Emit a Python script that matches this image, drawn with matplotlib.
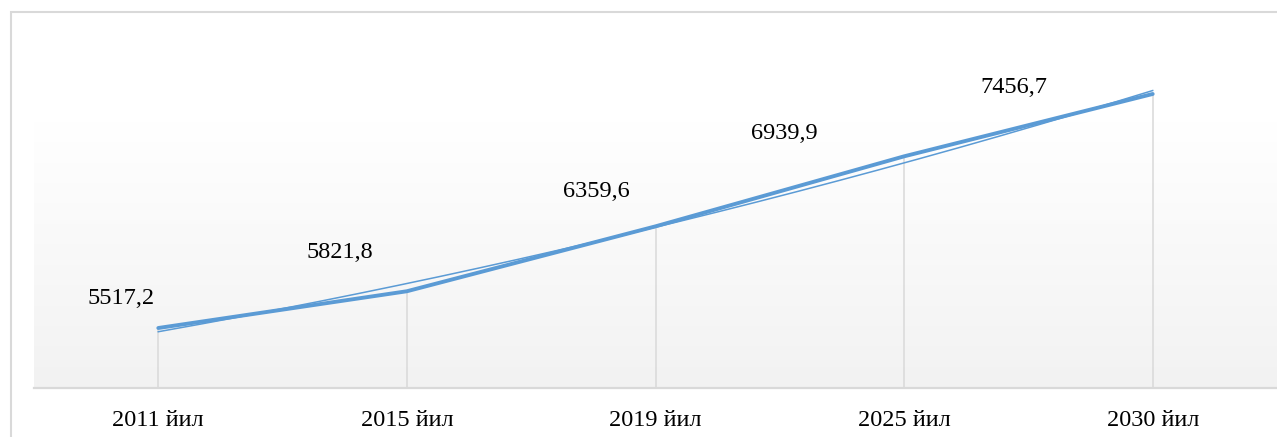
import numpy as np
import matplotlib
matplotlib.use("Agg")
import matplotlib.pyplot as plt
from matplotlib.patches import Rectangle

years = ["2011 йил", "2015 йил", "2019 йил", "2025 йил", "2030 йил"]
values = [5517.2, 5821.8, 6359.6, 6939.9, 7456.7]
value_labels = ["5517,2", "5821,8", "6359,6", "6939,9", "7456,7"]

# label offsets in pixels (dx, dy) from each point
label_offsets = [(-37, 30), (-67, 39), (-59, 35), (-120, 23), (-139, 6)]

plt.rcParams['font.family'] = ['Liberation Serif', 'DejaVu Serif']

W, H = 1277, 437
fig = plt.figure(figsize=(W / 100, H / 100), dpi=100)

# outer chart border (cut off on right and bottom)
fig.patches.append(Rectangle((11 / W, -0.2), 1.5, 1.2 - 12 / H, transform=fig.transFigure,
                             fill=False, edgecolor='#d9d9d9', linewidth=1.5))

left, right, bottom, top = 34, 1277, 388, 26
ax = fig.add_axes([left / W, 1 - bottom / H, (right - left) / W, (bottom - top) / H])

x = np.arange(len(years))
ax.set_xlim(-0.5, len(years) - 0.5)
ax.set_ylim(5020, 8020)

# gradient fill on the lower part of the plot area
grad_top = (bottom - 121) / (bottom - top)
g = np.linspace(0, 1, 256).reshape(-1, 1)
col = 1.0 - (1.0 - 0xf2 / 255) * g
img = np.dstack([col, col, col])
ax.imshow(img, extent=[0, 1, 0, grad_top], transform=ax.transAxes, aspect='auto',
          origin='upper', zorder=0)

# drop lines
ax.vlines(x, 5020, values, color='#d9d9d9', linewidth=1.1, zorder=1)

# series
ax.plot(x, values, color='#5b9bd5', linewidth=2.8, solid_capstyle='round', zorder=3)

# polynomial trend line
coef = np.polyfit(x, values, 2)
xs = np.linspace(0, len(years) - 1, 200)
ax.plot(xs, np.polyval(coef, xs), color='#5b9bd5', linewidth=1.1, zorder=4)

for i, (v, lab) in enumerate(zip(values, value_labels)):
    dx, dy = label_offsets[i]
    ax.annotate(lab, (x[i], v), xytext=(dx, dy), textcoords='offset pixels',
                ha='center', va='center', fontsize=17.5, color='black')

ax.set_xticks(x)
ax.set_xticklabels(years, fontsize=17.5)
ax.tick_params(axis='x', length=0, pad=16)
ax.set_yticks([])
for s in ['top', 'right', 'left']:
    ax.spines[s].set_visible(False)
ax.spines['bottom'].set_color('#d9d9d9')
ax.spines['bottom'].set_linewidth(1.6)
ax.set_facecolor('white')

fig.savefig("out.png", dpi=100)
